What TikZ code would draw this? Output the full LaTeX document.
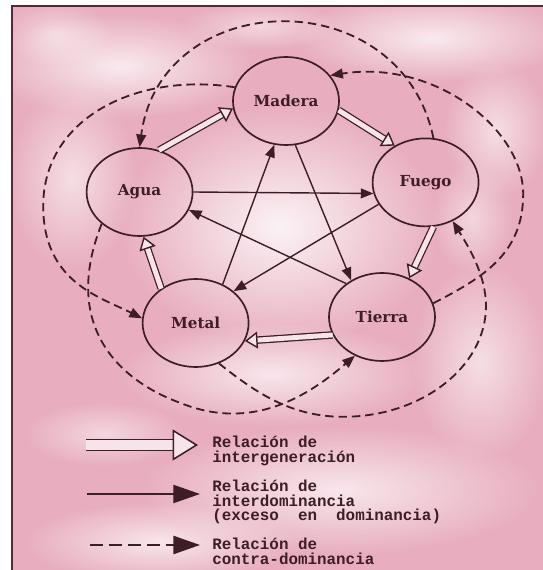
\documentclass[tikz,border=0pt]{standalone}
\usepackage{fontspec}
\usetikzlibrary{arrows.meta,shapes.geometric,fadings}
\newfontfamily\legendfont{Liberation Mono}
\newfontfamily\elemfont{DejaVu Serif}
\definecolor{ink}{RGB}{62,30,38}
\definecolor{paper}{RGB}{232,174,191}
\definecolor{genfill}{RGB}{247,228,234}
\definecolor{framecol}{RGB}{88,40,50}
\tikzfading[name=softblob, inner color=transparent!0, outer color=transparent!100]
\begin{document}
\begin{tikzpicture}[
    element/.style={ellipse, draw=ink, line width=1.2pt, minimum width=2.65cm,
      minimum height=2.2cm, inner sep=0pt, text=ink,
      font=\elemfont\bfseries\fontsize{10.8}{12}\selectfont},
    genshaft/.style={draw=ink, line width=0.9pt, double=genfill, double distance=3.5pt,
      shorten >=7pt},
    genhead/.style={draw=genfill, line width=2pt,
      -{Triangle[length=9pt, width=12pt, color=ink, fill=genfill, line width=1pt]}},
    dom/.style={draw=ink, line width=1pt, -{Triangle[length=9pt,width=7pt]}},
    contra/.style={draw=ink, line width=1.3pt, dash pattern=on 6pt off 3.5pt,
      -{Triangle[length=9pt,width=7pt]}},
    legendtext/.style={anchor=north west, align=left, inner sep=0pt, text=ink,
      font=\legendfont\bfseries\fontsize{11.3}{10.2}\selectfont},
    blob/.style={white, path fading=softblob}
  ]
    % Page and background
    \useasboundingbox (0,0) rectangle (13.575,14.25);
    \fill[white] (0,0) rectangle (13.575,14.25);
    \fill[paper] (0.3,0) rectangle (13.575,14.1);
    \begin{scope}
      \clip (0.3,0) rectangle (13.575,14.1);
      \fill[blob, opacity=0.85] (7.0,8.6) ellipse (4.0 and 3.0);
      \fill[blob, opacity=0.75] (3.0,12.6) ellipse (3.4 and 1.3);
      \fill[blob, opacity=0.75] (10.8,13.3) ellipse (3.4 and 1.1);
      \fill[blob, opacity=0.7] (6.8,4.9) ellipse (3.8 and 1.3);
      \fill[blob, opacity=0.7] (8.5,2.0) ellipse (5.0 and 1.6);
      \fill[blob, opacity=0.6] (1.8,9.8) ellipse (1.6 and 2.3);
      \fill[blob, opacity=0.6] (12.0,5.2) ellipse (1.7 and 2.5);
      \fill[blob, opacity=0.7] (4.0,0.7) ellipse (3.4 and 1.0);
      \fill[blob, opacity=0.6] (12.4,11.0) ellipse (1.3 and 1.7);
      \fill[blob, opacity=0.5] (1.4,13.4) ellipse (1.4 and 0.8);
      \fill[blob, opacity=0.5] (6.5,13.6) ellipse (2.0 and 0.6);
      \fill[blob, opacity=0.5] (2.6,3.4) ellipse (2.0 and 0.8);
      \fill[blob, opacity=0.5] (11.8,8.8) ellipse (1.0 and 1.4);
    \end{scope}
    \draw[framecol, line width=1.6pt] (0.3,0) -- (0.3,14.1) -- (13.575,14.1);

    % Five elements
    \node[element] (madera) at (7.15,11.725) {Madera};
    \node[element] (agua) at (3.49,9.45) {Agua};
    \node[element] (fuego) at (10.64,9.69) {Fuego};
    \node[element] (metal) at (4.89,6.175) {Metal};
    \node[element] (tierra) at (9.55,6.325) {Tierra};

    % Intergeneration (double arrows)
    \foreach \a/\b in {agua.65/madera.188, madera.350/fuego.130, fuego.280/tierra.55,
                       tierra.200/metal.340, metal.135/agua.275} {
      \draw[genshaft] (\a) -- (\b);
      \draw[genhead] (\a) -- (\b);
    }

    % Interdominance (solid arrows)
    \draw[dom] (madera.282) -- (tierra.130);
    \draw[dom] (tierra.137) -- (agua.340);
    \draw[dom] (agua.east) -- (fuego.192);
    \draw[dom] (fuego.205) -- (metal.40);
    \draw[dom] (metal.55) -- (madera.255);

    % Counter-dominance (dashed arcs)
    \draw[contra] (fuego.80) .. controls (10.0,14.78) and (4.02,14.58) .. (agua.north);
    \draw[contra] (madera.165) .. controls (3.42,12.45) and (1.08,11.3) .. (1.08,9.1)
      .. controls (1.08,7.2) and (2.49,6.83) .. (metal.175);
    \draw[contra] (agua.220) .. controls (1.52,6.08) and (3.0,4.73) .. (4.5,4.18)
      .. controls (6.3,3.45) and (7.7,4.35) .. (tierra.235);
    \draw[contra] (metal.300) .. controls (6.4,4.43) and (7.28,3.83) .. (8.58,3.83)
      .. controls (10.54,3.83) and (12.15,5.08) .. (12.15,6.6)
      .. controls (12.15,7.4) and (11.68,8.13) .. (fuego.305);
    \draw[contra] (tierra.15) .. controls (12.07,7.31) and (13.08,7.9) .. (13.08,9.4)
      .. controls (13.08,11.02) and (10.87,12.77) .. (madera.30);

    % Legend
    \coordinate (genA) at (2.15,3.125);
    \coordinate (genB) at (4.95,3.125);
    \coordinate (domA) at (2.175,1.9);
    \coordinate (domB) at (5.0,1.9);
    \coordinate (conA) at (2.25,0.625);
    \coordinate (conB) at (5.0,0.625);
    \draw[genshaft, line width=1pt, double distance=7pt, shorten >=15pt] (genA) -- (genB);
    \draw[genhead, line width=5pt,
      -{Triangle[length=18pt, width=22pt, color=ink, fill=genfill, line width=1.1pt]}] (genA) -- (genB);
    \draw[dom, -{Triangle[length=19pt,width=13pt]}] (domA) -- (domB);
    \draw[contra, dash pattern=on 9pt off 4.5pt, -{Triangle[length=19pt,width=13pt]}] (conA) -- (conB);
    \node[legendtext] (genlabel) at (5.3,3.35) {Relación de\\intergeneración};
    \node[legendtext] (domlabel) at (5.3,2.25) {Relación de\\interdominancia\\(exceso~~en~~dominancia)};
    \node[legendtext] (conlabel) at (5.3,0.8) {Relación de\\contra-dominancia};
\end{tikzpicture}
\end{document}
